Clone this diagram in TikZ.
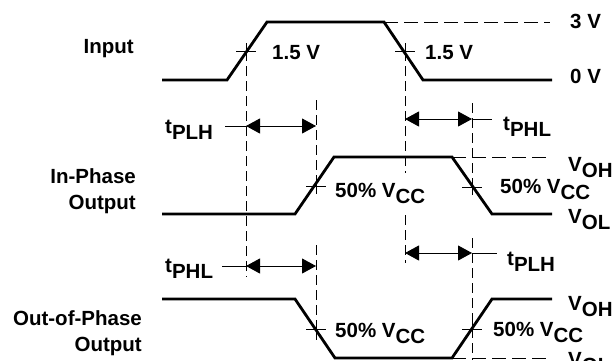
\documentclass[tikz,border=0pt]{standalone}
\usepackage{fontspec}
\setmainfont{Liberation Sans}
\usepackage{tikz}
\usetikzlibrary{arrows.meta}
\newcommand{\subtxt}[1]{\raisebox{-6pt}{#1}}

\begin{document}
\begin{tikzpicture}[
		x=1pt,y=-1pt,
		wave/.style={line width=2.8pt, line join=miter},
		guide/.style={line width=0.9pt, dash pattern=on 10pt off 5pt},
		hguide/.style={line width=0.9pt, dash pattern=on 14pt off 6pt},
		tick/.style={line width=0.9pt},
		dim/.style={line width=0.9pt, {Triangle[length=14pt,width=15pt]}-{Triangle[length=14pt,width=15pt]}},
		lbl/.style={font=\fontsize{20.5}{26}\selectfont\bfseries, inner sep=0pt},
		]
		\useasboundingbox (0,0) rectangle (613,360);
		
		% ====== SÓNG ======
		\draw[wave] (162,80) -- (227,80) -- (267,22) -- (384,22) -- (423,80) -- (552,80);
		\draw[wave] (162,214) -- (295,214) -- (334,157) -- (452,157) -- (492,214) -- (552,214);
		\draw[wave] (162,299) -- (295,299) -- (335,358) -- (452,358) -- (492,299) -- (552,299);
		
		% ====== ĐIỂM 50% (dấu cộng) ======
		\coordinate (x1) at (246,51);
		\coordinate (x2) at (405,51);
		\coordinate (x3) at (316,186);
		\coordinate (x4) at (472,187);
		\coordinate (x5) at (316,329);
		\coordinate (x6) at (472,329);
		\foreach \p in {x1,x2,x3,x4,x5,x6}
		\draw[tick] ([xshift=-10pt]\p) -- ([xshift=10pt]\p)
		([yshift=-8pt]\p) -- ([yshift=8pt]\p);
		
		% ====== ĐƯỜNG ĐỨT ======
		\draw[hguide] (384,22) -- (550,22);
		\draw[hguide] (452,157) -- (550,157);
		\draw[hguide] (452,358) -- (550,358);
		
		\draw[guide] (x1) -- (246,277);
		\draw[guide] (x2) -- (405,173);
		\draw[guide] (405,215) -- (405,263);
		\draw[guide] (316,100) -- (316,193);
		\draw[guide] (316,245) -- (316,340);
		\draw[guide] (472,103) -- (472,190);
		\draw[guide] (472,238) -- (472,360);
		
		% ====== MŨI TÊN THỜI GIAN ======
		\coordinate (a1) at (246,126); \coordinate (b1) at (316,126);
		\coordinate (a2) at (405,119); \coordinate (b2) at (472,119);
		\coordinate (a3) at (246,266); \coordinate (b3) at (316,266);
		\coordinate (a4) at (405,253); \coordinate (b4) at (472,253);
		
		\draw[dim] (a1) -- (b1);
		\draw[dim] (a2) -- (b2);
		\draw[dim] (a3) -- (b3);
		\draw[dim] (a4) -- (b4);
		
		\draw[tick] ([xshift=-21pt]a1) -- (a1);
		\draw[tick] (b2) -- ([xshift=20pt]b2);
		\draw[tick] ([xshift=-24pt]a3) -- (a3);
		\draw[tick] (b4) -- ([xshift=25pt]b4);
		
		% ====== NHÃN TRÁI ======
		\node[lbl, anchor=base east] (lin) at (134,53) {Input};
		\node[lbl, anchor=east, align=right] (lip) at (136,191) {In-Phase\\Output};
		\node[lbl, anchor=east, align=right] (lop) at (142,333) {Out-of-Phase\\Output};
		
		% ====== NHÃN PHẢI ======
		\node[lbl, anchor=base west] (l3v) at (570,28) {3 V};
		\node[lbl, anchor=base west] (l0v) at (570,83) {0 V};
		\node[lbl, anchor=base west] (l15a) at (272,59) {1.5 V};
		\node[lbl, anchor=base west] (l15b) at (425,59) {1.5 V};
		\node[lbl, anchor=base west] (tplh1) at (165,133) {t\subtxt{PLH}};
		\node[lbl, anchor=base west] (tphl1) at (503,130) {t\subtxt{PHL}};
		\node[lbl, anchor=base west] (voh1) at (568,171) {V\subtxt{OH}};
		\node[lbl, anchor=base west] (vcc1) at (500,193) {50\% V\subtxt{CC}};
		\node[lbl, anchor=base west] (vol1) at (568,223) {V\subtxt{OL}};
		\node[lbl, anchor=base west] (vcc2) at (335,197) {50\% V\subtxt{CC}};
		\node[lbl, anchor=base west] (tphl2) at (165,272) {t\subtxt{PHL}};
		\node[lbl, anchor=base west] (tplh2) at (507,265) {t\subtxt{PLH}};
		\node[lbl, anchor=base west] (voh2) at (568,310) {V\subtxt{OH}};
		\node[lbl, anchor=base west] (vcc3) at (335,337) {50\% V\subtxt{CC}};
		\node[lbl, anchor=base west] (vcc4) at (493,336) {50\% V\subtxt{CC}};
		\node[lbl, anchor=base west] (vol2) at (568,366) {V\subtxt{OL}};
		
\end{tikzpicture}
\end{document}
